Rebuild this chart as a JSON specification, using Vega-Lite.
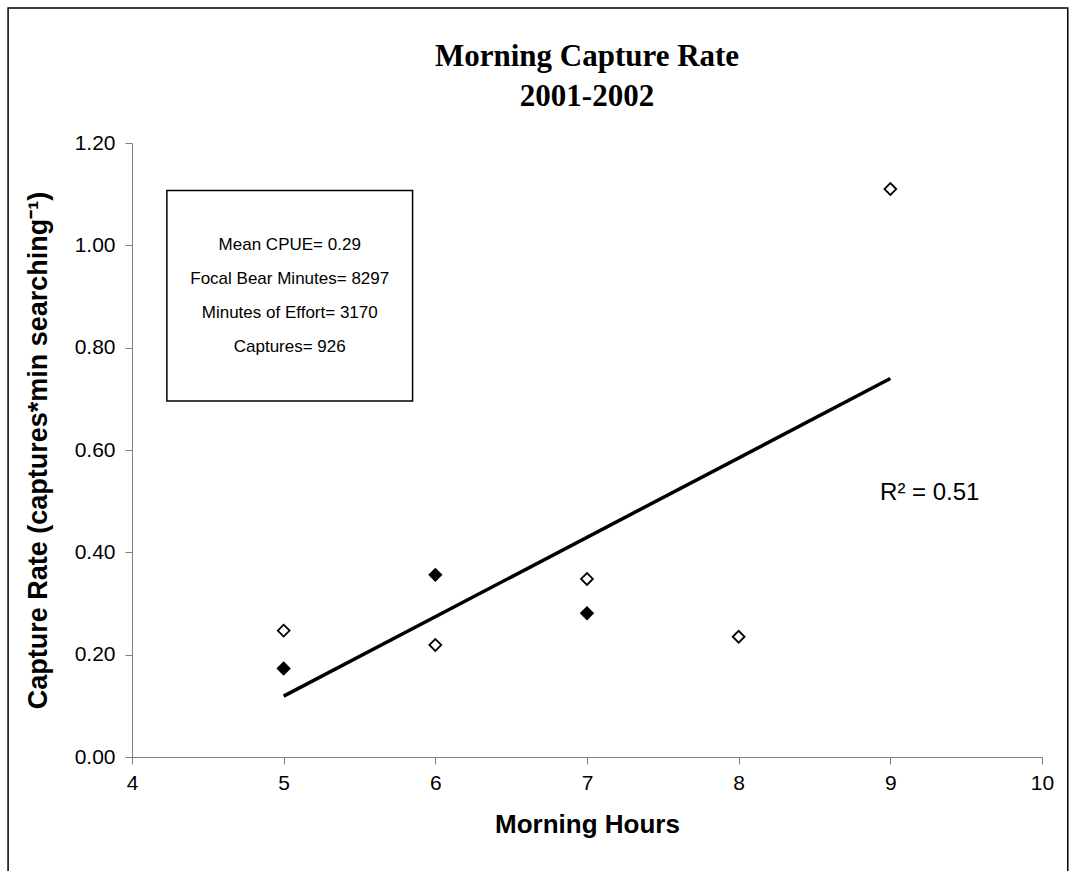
{
  "$schema": "https://vega.github.io/schema/vega-lite/v6.json",
  "width": 910,
  "height": 614,
  "autosize": {"type": "none"},
  "padding": {"left": 132, "top": 143, "right": 27, "bottom": 114},
  "background": "white",
  "config": {
    "view": {"stroke": null},
    "font": "Liberation Sans",
    "axis": {
      "grid": false,
      "domainColor": "#808080",
      "tickColor": "#808080",
      "tickSize": 7,
      "labelColor": "black",
      "labelFont": "Liberation Sans",
      "labelFontSize": 21,
      "labelFlush": false,
      "titleColor": "black",
      "titleFont": "Liberation Sans",
      "titleFontSize": 26,
      "titleFontWeight": "bold"
    }
  },
  "title": {
    "text": ["Morning Capture Rate", "2001-2002"],
    "font": "Liberation Serif",
    "fontSize": 31,
    "fontWeight": "bold",
    "color": "black",
    "lineHeight": 40,
    "anchor": "middle",
    "frame": "group",
    "offset": -106
  },
  "datasets": {
    "rates": [
      {"hours": 5, "rate": 0.247, "year": "2002"},
      {"hours": 5, "rate": 0.173, "year": "2001"},
      {"hours": 6, "rate": 0.356, "year": "2001"},
      {"hours": 6, "rate": 0.219, "year": "2002"},
      {"hours": 7, "rate": 0.348, "year": "2002"},
      {"hours": 7, "rate": 0.281, "year": "2001"},
      {"hours": 8, "rate": 0.235, "year": "2002"},
      {"hours": 9, "rate": 1.11, "year": "2002"}
    ],
    "notes": [
      {"note": "summary"}
    ]
  },
  "layer": [
    {
      "data": {"name": "notes"},
      "mark": {"type": "rect", "fill": null, "stroke": "black", "strokeWidth": 1.5, "clip": false},
      "encoding": {
        "x": {"datum": 3.183, "type": "quantitative", "scale": {"domain": [4, 10], "nice": false, "zero": false}},
        "x2": {"datum": 10.17},
        "y": {"datum": 1.464, "type": "quantitative", "scale": {"domain": [0, 1.2], "nice": false}},
        "y2": {"datum": -0.25}
      }
    },
    {
      "data": {"name": "rates"},
      "transform": [{"regression": "rate", "on": "hours"}],
      "mark": {"type": "line", "color": "black", "strokeWidth": 3.5},
      "encoding": {
        "x": {"field": "hours", "type": "quantitative"},
        "y": {"field": "rate", "type": "quantitative"}
      }
    },
    {
      "data": {"name": "rates"},
      "mark": {"type": "point", "shape": "diamond", "size": 140, "filled": true, "stroke": "black", "strokeWidth": 1.8, "opacity": 1},
      "encoding": {
        "x": {
          "field": "hours",
          "type": "quantitative",
          "axis": {
            "values": [4, 5, 6, 7, 8, 9, 10],
            "format": "d",
            "title": "Morning Hours",
            "labelPadding": 8,
            "titlePadding": 18
          }
        },
        "y": {
          "field": "rate",
          "type": "quantitative",
          "axis": {
            "values": [0, 0.2, 0.4, 0.6, 0.8, 1.0, 1.2],
            "format": ".2f",
            "title": "Capture Rate (captures*min searching⁻¹)",
            "titleFontSize": 27,
            "labelPadding": 10,
            "titlePadding": 22
          }
        },
        "fill": {
          "field": "year",
          "type": "nominal",
          "scale": {"domain": ["2001", "2002"], "range": ["black", "white"]},
          "legend": null
        }
      }
    },
    {
      "data": {"name": "notes"},
      "mark": {"type": "rect", "fill": "white", "stroke": "black", "strokeWidth": 1.5},
      "encoding": {
        "x": {"datum": 4.23, "type": "quantitative"},
        "x2": {"datum": 5.85},
        "y": {"datum": 1.107, "type": "quantitative"},
        "y2": {"datum": 0.696}
      }
    },
    {
      "data": {"name": "notes"},
      "mark": {
        "type": "text",
        "text": ["Mean CPUE= 0.29", "Focal Bear Minutes= 8297", "Minutes of Effort= 3170", "Captures= 926"],
        "font": "Liberation Sans",
        "fontSize": 17,
        "lineHeight": 34,
        "align": "center",
        "baseline": "middle",
        "color": "black"
      },
      "encoding": {
        "x": {"datum": 5.04, "type": "quantitative"},
        "y": {"datum": 1.0, "type": "quantitative"}
      }
    },
    {
      "data": {"name": "notes"},
      "mark": {"type": "text", "text": "R² = 0.51", "font": "Liberation Sans", "fontSize": 24, "align": "center", "baseline": "middle", "color": "black"},
      "encoding": {
        "x": {"datum": 9.26, "type": "quantitative"},
        "y": {"datum": 0.515, "type": "quantitative"}
      }
    }
  ]
}
